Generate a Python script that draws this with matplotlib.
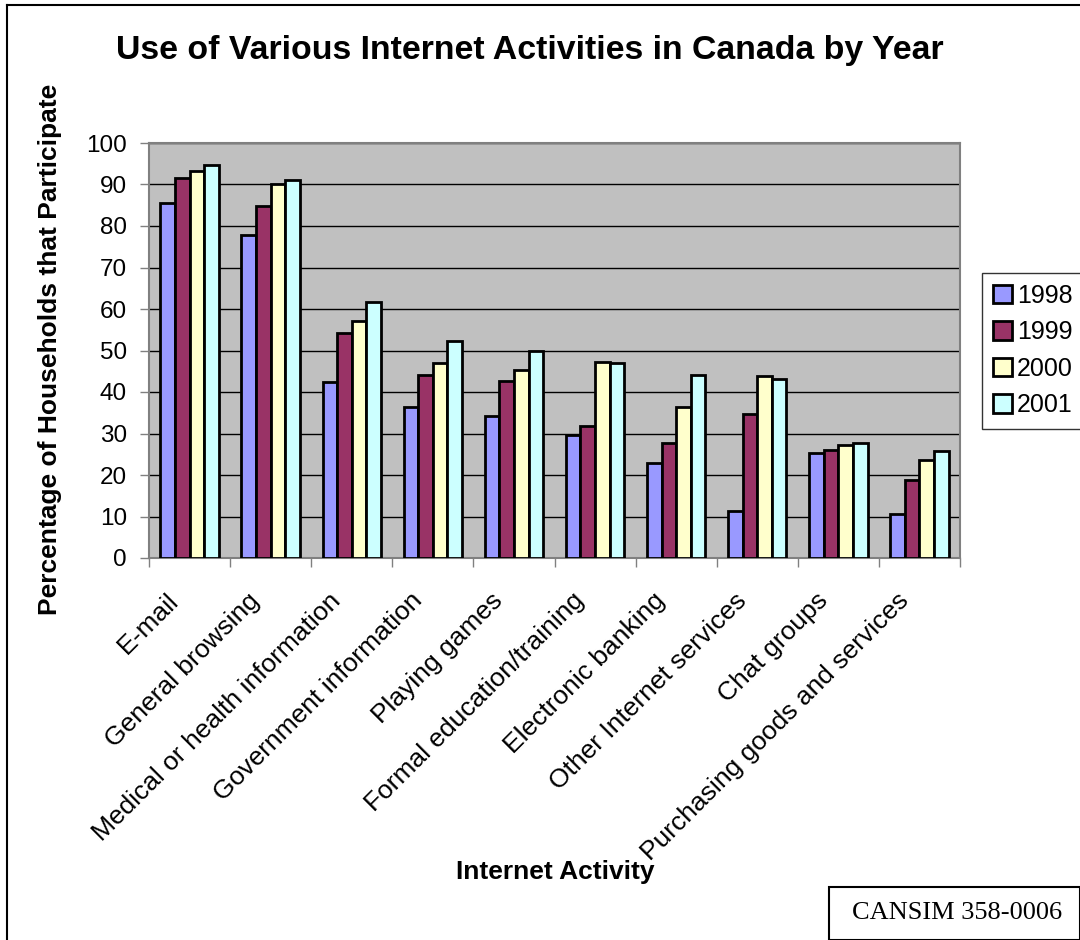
import numpy as np
import matplotlib
matplotlib.use("Agg")
from matplotlib import pyplot as plt
from matplotlib.lines import Line2D
from matplotlib.patches import Rectangle
from matplotlib.transforms import ScaledTranslation

plt.rcParams['font.family'] = ['Liberation Sans', 'DejaVu Sans']

activities = ['E-mail', 'General browsing', 'Medical or health information',
              'Government information', 'Playing games', 'Formal education/training',
              'Electronic banking', 'Other Internet services', 'Chat groups',
              'Purchasing goods and services']
years = ['1998', '1999', '2000', '2001']

pct_1998 = [85.6, 77.9, 42.3, 36.4, 34.2, 29.7, 22.8, 11.4, 25.2, 10.7]
pct_1999 = [91.6, 84.8, 54.3, 44.1, 42.6, 31.9, 27.6, 34.6, 26.0, 18.9]
pct_2000 = [93.3, 90.1, 57.1, 47.0, 45.2, 47.2, 36.5, 43.9, 27.3, 23.7]
pct_2001 = [94.8, 91.0, 61.7, 52.4, 50.0, 47.0, 44.2, 43.2, 27.8, 25.9]

series = [pct_1998, pct_1999, pct_2000, pct_2001]
colors = ['#9999FF', '#993366', '#FFFFCC', '#CCFFFF']

W, H = 1080, 940
fig = plt.figure(figsize=(W / 100, H / 100), dpi=100)

# axes box in pixel coords
x0, x1, y_top, y_bot = 149, 960, 143, 558
ax = fig.add_axes([x0 / W, 1 - y_bot / H, (x1 - x0) / W, (y_bot - y_top) / H])
ax.set_facecolor('#C0C0C0')

x = np.arange(len(activities))
bw = 0.18
for i, (vals, c) in enumerate(zip(series, colors)):
    ax.bar(x + (i - 1.5) * bw, vals, bw, color=c, edgecolor='black',
           linewidth=2, label=years[i], zorder=3)

ax.set_xlim(-0.5, len(activities) - 0.5)
ax.set_ylim(0, 100)
ax.set_yticks(range(0, 101, 10))
ax.yaxis.grid(True, color='black', linewidth=1, zorder=0)
ax.tick_params(axis='y', labelsize=17.5, length=6.5, width=1, color='#808080', pad=9.5)

ax.set_xticks(x)
ax.set_xticklabels(activities, rotation=45, ha='right', va='top',
                   rotation_mode='anchor', fontsize=19)
ax.tick_params(axis='x', length=0, pad=22)
# shift the slanted labels a little left of the category centres
shift = ScaledTranslation(-0.23, 0, fig.dpi_scale_trans)
for lbl in ax.get_xticklabels():
    lbl.set_transform(lbl.get_transform() + shift)
ax.set_xticks(np.arange(-0.5, len(activities)), minor=True)
ax.tick_params(axis='x', which='minor', length=6.5, width=1, color='#808080')

for side in ['top', 'right', 'left', 'bottom']:
    ax.spines[side].set_color('#808080')
    ax.spines[side].set_linewidth(1.5)

leg = ax.legend(loc='center left', bbox_to_anchor=((982 - x0) / (x1 - x0), 0.5),
                fontsize=18, frameon=True, fancybox=False, edgecolor='black',
                handlelength=0.75, handleheight=0.75, handletextpad=0.2,
                labelspacing=0.5, borderpad=0.45, borderaxespad=0)
leg.get_frame().set_linewidth(1)

fig.text(530 / W, 1 - 50 / H, 'Use of Various Internet Activities in Canada by Year',
         ha='center', va='center', fontsize=24.4, fontweight='bold')
fig.text(50 / W, 1 - 349 / H, 'Percentage of Households that Participate',
         ha='center', va='center', rotation=90, fontsize=19, fontweight='bold')
fig.text(555 / W, 1 - 872 / H, 'Internet Activity',
         ha='center', va='center', fontsize=19, fontweight='bold')

# source box in the lower right corner
fig.patches.append(Rectangle((829 / W, 0), (W - 829) / W, (H - 887) / H,
                             transform=fig.transFigure, fill=False,
                             edgecolor='black', linewidth=1.5))
fig.text(957 / W, 1 - 913 / H, 'CANSIM 358-0006', ha='center', va='center',
         fontsize=19, family='Liberation Serif')

# outer frame (left and top edges)
fig.add_artist(Line2D([7 / W, 7 / W], [0, 1 - 5 / H], transform=fig.transFigure,
                      color='black', linewidth=1.5))
fig.add_artist(Line2D([7 / W, 1], [1 - 5 / H, 1 - 5 / H], transform=fig.transFigure,
                      color='black', linewidth=1.5))

fig.savefig('out.png', dpi=100)
